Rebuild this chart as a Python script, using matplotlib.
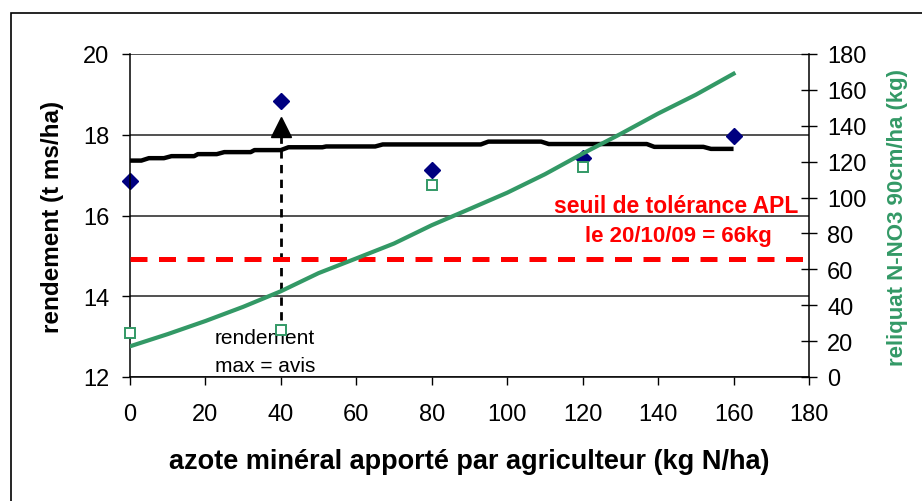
"""
Rendement et reliquat azoté en fonction de l'azote minéral apporté.
"""
import matplotlib
matplotlib.use("Agg")
import matplotlib.pyplot as plt
from matplotlib.patches import Rectangle

plt.rcParams['font.family'] = ['Liberation Sans', 'DejaVu Sans']

# Data
dose_essai = [0, 40, 80, 120, 160]
rendement_mesure = [16.86, 18.84, 17.13, 17.42, 17.96]
reliquat_dose = [0, 40, 80, 120]
reliquat_mesure = [24.3, 26.2, 107.0, 117.0]

# modelled yield curve (left axis)
courbe_x = [0, 3, 5, 9, 11, 17, 18, 23, 25, 32, 33, 40, 42, 51, 52, 65, 67,
            93, 95, 109, 111, 137, 139, 152, 154, 160]
courbe_rdt = [17.36, 17.36, 17.42, 17.42, 17.47, 17.47, 17.52, 17.52, 17.57,
              17.57, 17.62, 17.62, 17.69, 17.69, 17.71, 17.71, 17.76, 17.76,
              17.83, 17.83, 17.77, 17.77, 17.70, 17.70, 17.65, 17.65]

# modelled residual nitrogen (right axis)
reliquat_x = [0, 10, 20, 30, 40, 50, 60, 70, 80, 90, 100, 110, 120, 130, 140, 150, 160]
reliquat_y = [17.1, 23.9, 31.2, 39.1, 47.8, 57.9, 66.1, 74.4, 84.6, 93.6, 102.7,
              113.0, 124.5, 135.4, 146.8, 157.3, 169.0]

rdt_max_x = 40
rdt_max_y = 18.2
seuil_apl = 66

green = '#339966'
navy = '#000080'

fig = plt.figure(figsize=(9.22, 5.02), dpi=100)
ax = fig.add_axes([130 / 922, 1 - 378 / 502, (809 - 130) / 922, (378 - 55) / 502])
ax2 = ax.twinx()

# left axis: yield
ax.plot(courbe_x, courbe_rdt, color='black', lw=3.2, solid_capstyle='butt', zorder=3)
ax.plot(dose_essai, rendement_mesure, linestyle='none', marker='D', markersize=8,
        color=navy, clip_on=False, zorder=2)
ax.vlines(rdt_max_x, 13.42, rdt_max_y, colors='black', linestyles=(0, (3, 2.3)),
          lw=2, zorder=3)
ax.plot([rdt_max_x], [rdt_max_y], marker='^', markersize=14, color='black',
        linestyle='none', zorder=4)
ax.text(35.8, 12.62, "rendement\nmax = avis", ha='center', va='center',
        fontsize=15, linespacing=1.6, zorder=5)

ax.set_xlim(0, 180)
ax.set_ylim(12, 20)
ax.set_xticks(range(0, 181, 20))
ax.set_yticks(range(12, 21, 2))
ax.yaxis.grid(True, color='#222222', lw=1.1)
ax.set_axisbelow(True)
ax.tick_params(axis='both', labelsize=17, direction='out', length=6, width=1)
ax.tick_params(axis='y', pad=9)
ax.tick_params(axis='x', pad=13)
for s in ['top', 'right']:
    ax.spines[s].set_visible(False)
ax.spines['left'].set_linewidth(1.1)
ax.spines['bottom'].set_linewidth(1.1)

# right axis: residual nitrogen
ax2.axhline(seuil_apl, color='#ff0000', lw=3.6, linestyle=(0, (3.4, 2.3)), zorder=1)
ax2.plot(reliquat_x, reliquat_y, color=green, lw=3, zorder=3)
ax2.plot(reliquat_dose, reliquat_mesure, linestyle='none', marker='s', markersize=7.5,
         markerfacecolor='white', markeredgecolor=green, markeredgewidth=1.4,
         clip_on=False, zorder=2)
ax2.text(144.8, 95.3, "seuil de tolérance APL", color='#ff0000', fontsize=16.5,
         fontweight='bold', ha='center', va='center')
ax2.text(145.5, 78.6, "le 20/10/09 = 66kg", color='#ff0000', fontsize=16,
         fontweight='bold', ha='center', va='center')

ax2.set_ylim(0, 180)
ax2.set_yticks(range(0, 181, 20))
ax2.tick_params(axis='y', labelsize=17, direction='inout', length=12, width=1, pad=7)
for s in ['top', 'left', 'bottom']:
    ax2.spines[s].set_visible(False)
ax2.spines['right'].set_linewidth(1.1)

# axis titles
fig.text(53 / 922, 1 - 217 / 502, "rendement (t ms/ha)", rotation=90, fontsize=17.5,
         fontweight='bold', ha='center', va='center')
fig.text(897 / 922, 1 - 218 / 502, "reliquat N-NO3 90cm/ha (kg)", rotation=90,
         fontsize=16, fontweight='bold', color=green, ha='center', va='center')
fig.text(469 / 922, 1 - 462 / 502, "azote minéral apporté par agriculteur (kg N/ha)",
         fontsize=19.5, fontweight='bold', ha='center', va='center')

# chart border
fig.patches.append(Rectangle((10.5 / 922, -0.1), 1.2, 1.1 - 13.5 / 502,
                             transform=fig.transFigure, fill=False,
                             edgecolor='black', lw=1.2))

fig.savefig("out.png", dpi=100)
